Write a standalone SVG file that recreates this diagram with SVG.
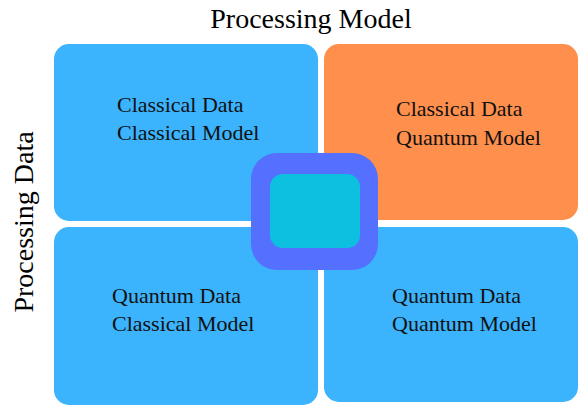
<svg xmlns="http://www.w3.org/2000/svg" width="580" height="406" viewBox="0 0 580 406">
  <style>
    .quad { fill: #3BB3FD; }
    .quad.orange { fill: #FF8F4C; }
    .label { font-family: "Liberation Serif", "Times New Roman", serif; font-size: 22px; fill: #111; }
    .axis { font-family: "Liberation Serif", "Times New Roman", serif; font-size: 28px; fill: #000; }
  </style>
  <rect width="580" height="406" fill="#ffffff"/>

  <!-- axis titles -->
  <text class="axis" x="311" y="28" text-anchor="middle">Processing Model</text>
  <text class="axis" transform="translate(33,222) rotate(-90)" text-anchor="middle" font-size="29">Processing Data</text>

  <g id="classical-data-classical-model">
    <rect class="quad" x="54" y="44" width="264" height="177" rx="15"/>
    <text class="label" x="117" y="112">Classical Data</text>
    <text class="label" x="117" y="140">Classical Model</text>
  </g>

  <g id="classical-data-quantum-model">
    <rect class="quad orange" x="324" y="44" width="254" height="176" rx="15"/>
    <text class="label" x="396" y="116">Classical Data</text>
    <text class="label" x="396" y="145">Quantum Model</text>
  </g>

  <g id="quantum-data-classical-model">
    <rect class="quad" x="54" y="227" width="264" height="178" rx="15"/>
    <text class="label" x="112" y="303">Quantum Data</text>
    <text class="label" x="112" y="331">Classical Model</text>
  </g>

  <g id="quantum-data-quantum-model">
    <rect class="quad" x="324" y="227" width="254" height="175" rx="15"/>
    <text class="label" x="392" y="303">Quantum Data</text>
    <text class="label" x="392" y="331">Quantum Model</text>
  </g>

  <g id="center">
    <rect x="251" y="153" width="127" height="117" rx="26" fill="#5570FF"/>
    <rect x="270" y="174" width="90" height="74" rx="13" fill="#0DC0DF"/>
  </g>

  <g id="connectors"></g>
</svg>
